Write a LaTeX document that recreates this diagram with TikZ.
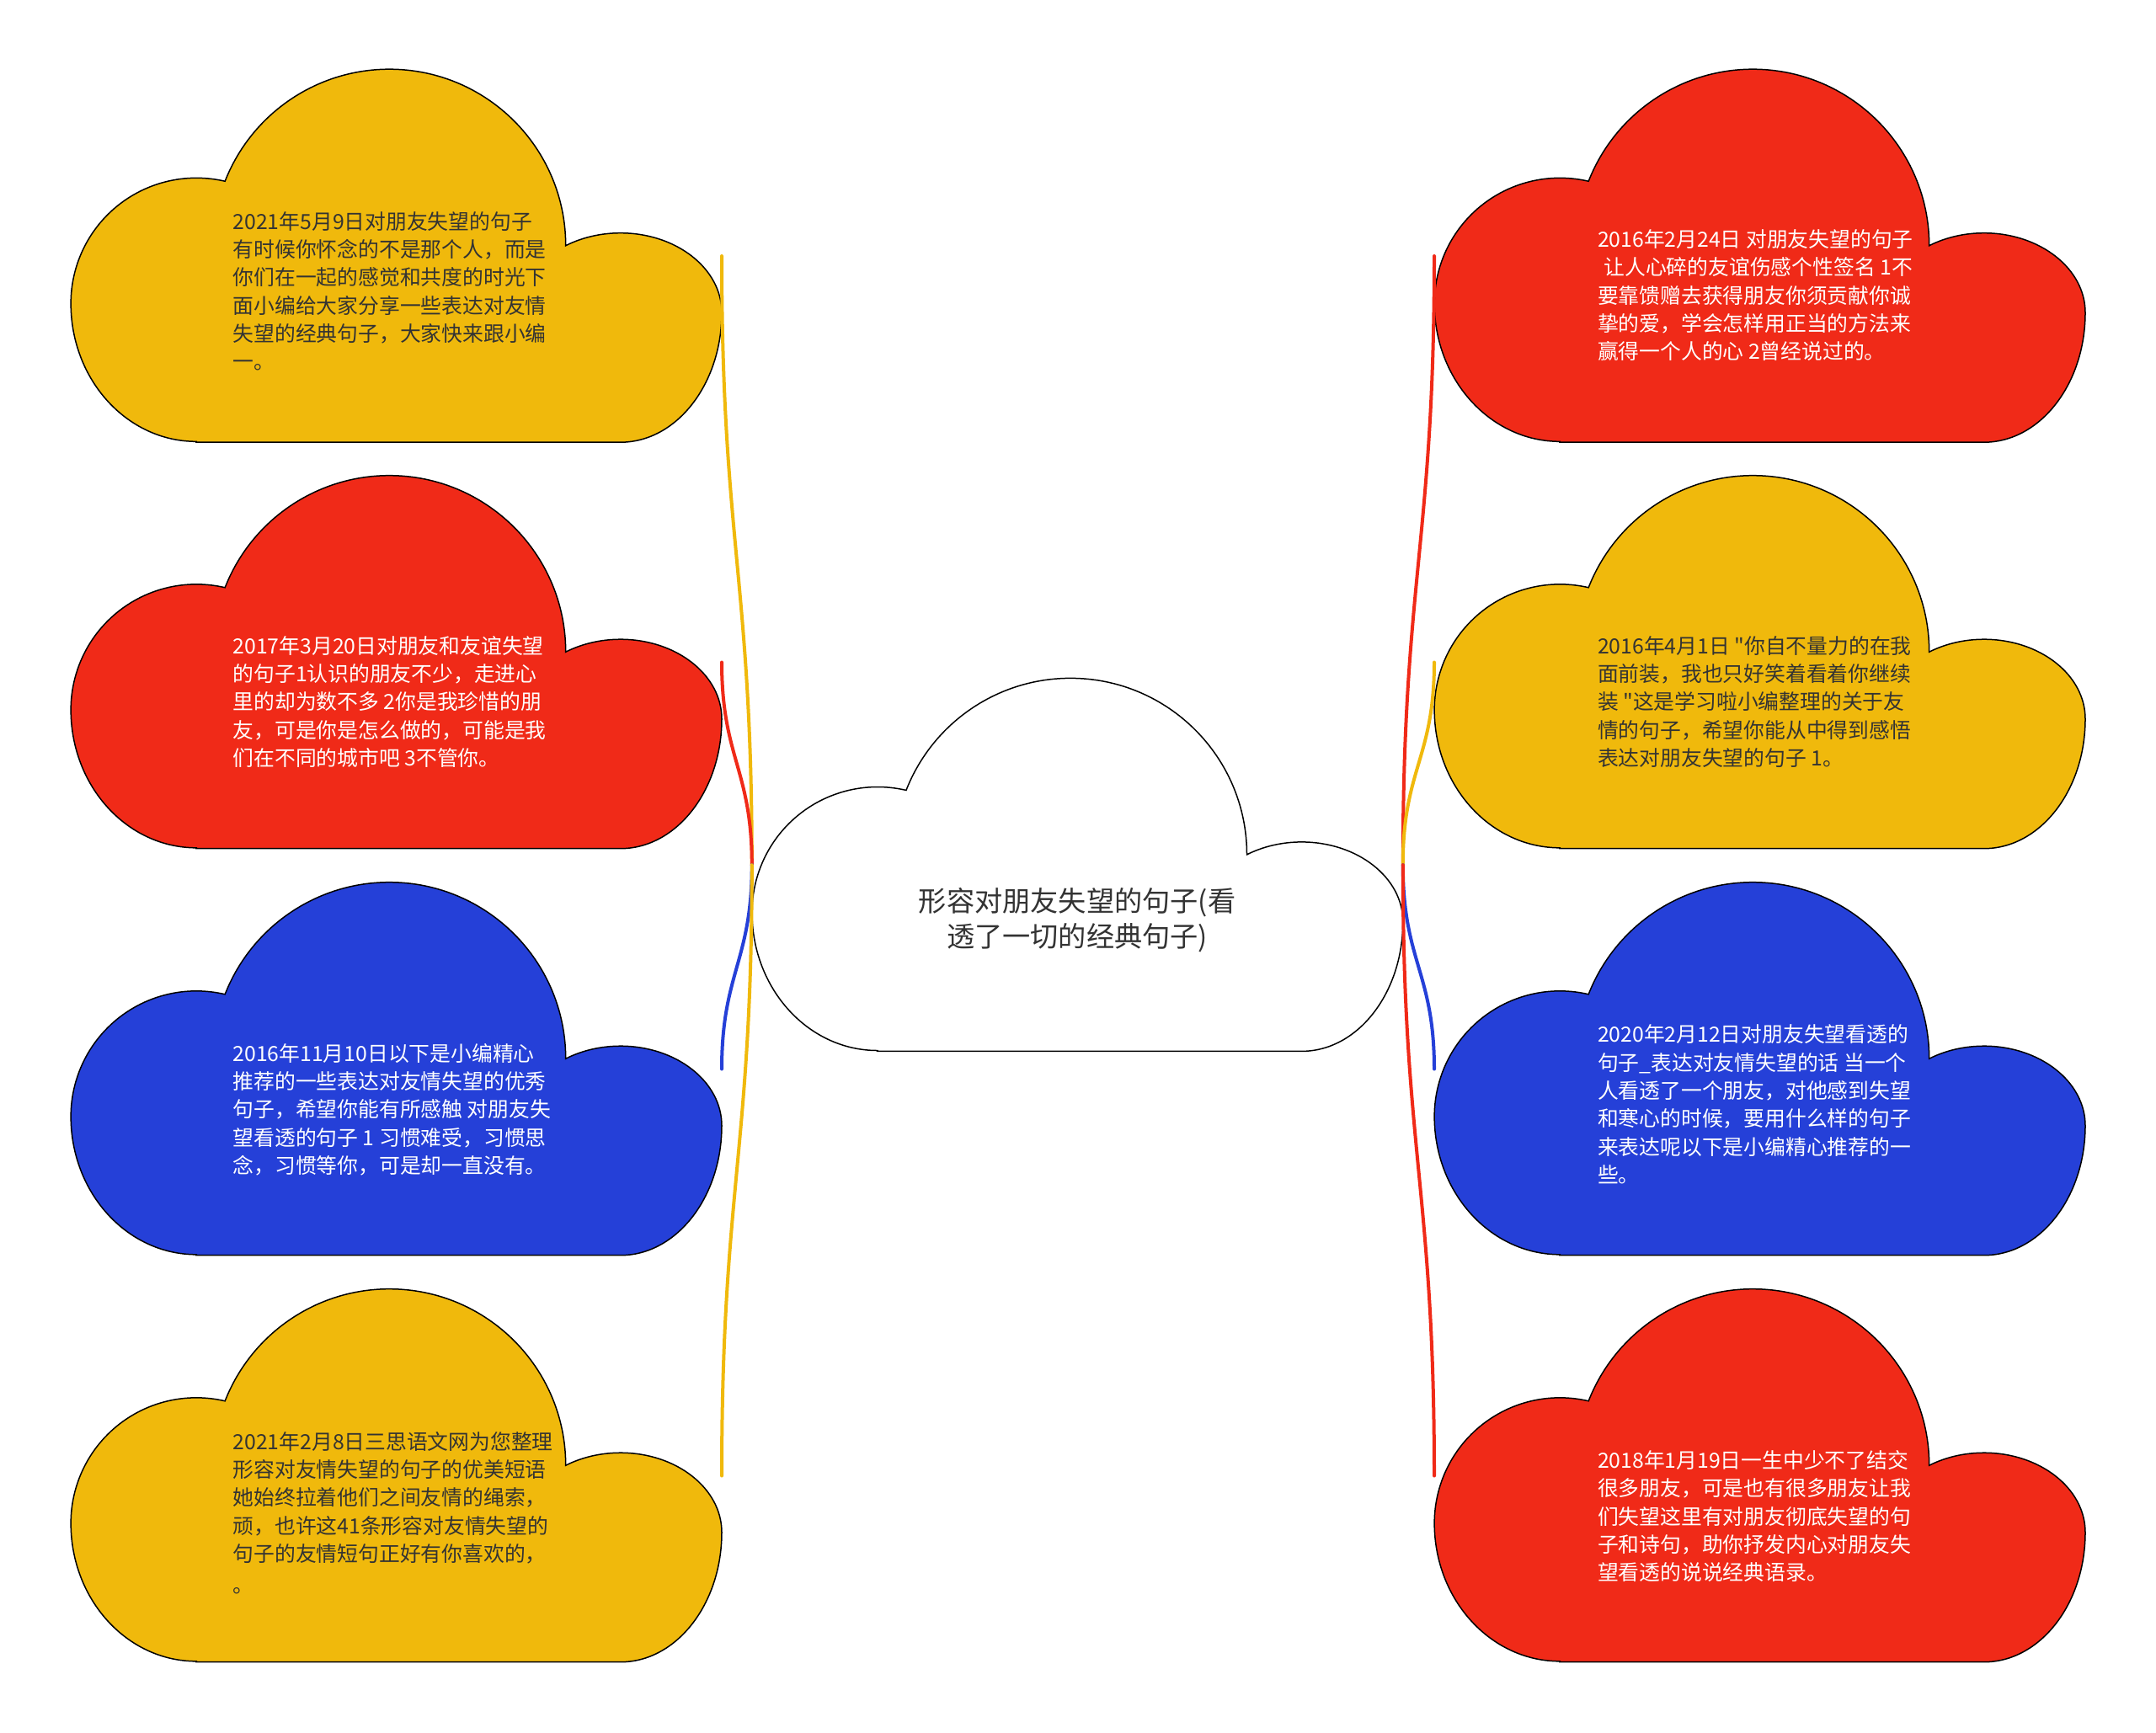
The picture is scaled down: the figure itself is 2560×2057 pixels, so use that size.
\documentclass[tikz,border=0pt]{standalone}
\usepackage{fontspec}
\newfontfamily\cjk{Noto Sans CJK SC}
\definecolor{cyel}{HTML}{F0B90C}
\definecolor{cred}{HTML}{F02A18}
\definecolor{cblu}{HTML}{2540D8}
\definecolor{cdark}{HTML}{333333}
\newcommand\mystrut{\rule{0pt}{1em}}
\newcommand\cloudat[4]{%
  \draw[cloudline, fill=#3, shift={(#1,-#2)}] (149,-441.7) -- (652.7,-441.7)
    arc[start angle=-90, end angle=0, x radius=120.3pt, y radius=154pt]
    arc[start angle=0, end angle=122.7, x radius=120.3pt, y radius=94.5pt]
    arc[start angle=0, end angle=158.6, radius=209.5pt]
    arc[start angle=76.8, end angle=180, radius=149pt]
    arc[start angle=180, end angle=270, x radius=149pt, y radius=164pt]
    -- cycle;
  \coordinate (#4w) at (#1,-#2-220.5);
  \coordinate (#4e) at (#1+773,-#2-220.5);
}
\tikzset{
  cloudline/.style={draw=black, line width=1.5pt},
  conn/.style={line width=4pt, line cap=round},
  bodytext/.style={anchor=north west, inner sep=0pt, align=left,
    font=\cjk\fontsize{24.8pt}{33.3pt}\selectfont},
  darktext/.style={bodytext, text=cdark},
  lighttext/.style={bodytext, text=white},
  titletext/.style={anchor=north, inner sep=0pt, align=center,
    font=\cjk\fontsize{33.2pt}{42pt}\selectfont, text=cdark},
}
\begin{document}
\begin{tikzpicture}[x=1pt,y=1pt]
\useasboundingbox (0,0) rectangle (2560,-2057);
\fill[white] (0,0) rectangle (2560,-2057);

% clouds
\cloudat{84}{83.5}{cyel}{L1}
\cloudat{84}{566}{cred}{L2}
\cloudat{84}{1049}{cblu}{L3}
\cloudat{84}{1532}{cyel}{L4}
\cloudat{1703}{83.5}{cred}{R1}
\cloudat{1703}{566}{cyel}{R2}
\cloudat{1703}{1049}{cblu}{R3}
\cloudat{1703}{1532}{cred}{R4}
\cloudat{892.8}{806.7}{white}{C}

% connectors
\draw[conn, draw=cyel] (Cw) to[out=90, in=-90, looseness=1.2] (L1e);
\draw[conn, draw=cred] (Cw) to[out=90, in=-90, looseness=1.2] (L2e);
\draw[conn, draw=cblu] (Cw) to[out=-90, in=90, looseness=1.2] (L3e);
\draw[conn, draw=cyel] (Cw) to[out=-90, in=90, looseness=1.2] (L4e);
\draw[conn, draw=cred] (Ce) to[out=90, in=-90, looseness=1.2] (R1w);
\draw[conn, draw=cyel] (Ce) to[out=90, in=-90, looseness=1.2] (R2w);
\draw[conn, draw=cblu] (Ce) to[out=-90, in=90, looseness=1.2] (R3w);
\draw[conn, draw=cred] (Ce) to[out=-90, in=90, looseness=1.2] (R4w);

% texts
\node[titletext] (title) at (1279,-1049.4) {\mystrut 形容对朋友失望的句子(看\\透了一切的经典句子)};

\node[darktext] (t1) at (276.4,-247.3) {\mystrut 2021年5月9日对朋友失望的句子\\有时候你怀念的不是那个人，而是\\你们在一起的感觉和共度的时光下\\面小编给大家分享一些表达对友情\\失望的经典句子，大家快来跟小编\\一。};

\node[lighttext] (t2) at (276.4,-751.3) {\mystrut 2017年3月20日对朋友和友谊失望\\的句子1认识的朋友不少，走进心\\里的却为数不多 2你是我珍惜的朋\\友，可是你是怎么做的，可能是我\\们在不同的城市吧 3不管你。};

\node[lighttext] (t3) at (276.4,-1235.3) {\mystrut 2016年11月10日以下是小编精心\\推荐的一些表达对友情失望的优秀\\句子，希望你能有所感触 对朋友失\\望看透的句子 1 习惯难受，习惯思\\念，习惯等你，可是却一直没有。};

\node[darktext] (t4) at (276.4,-1696.3) {\mystrut 2021年2月8日三思语文网为您整理\\形容对友情失望的句子的优美短语\\她始终拉着他们之间友情的绳索，\\顽，也许这41条形容对友情失望的\\句子的友情短句正好有你喜欢的，\\[4pt]。};

\node[lighttext] (t5) at (1896.8,-268.6) {\mystrut 2016年2月24日 对朋友失望的句子\\\hspace*{0.3em}让人心碎的友谊伤感个性签名 1不\\要靠馈赠去获得朋友你须贡献你诚\\挚的爱，学会怎样用正当的方法来\\赢得一个人的心 2曾经说过的。};

\node[darktext] (t6) at (1896.8,-751.3) {\mystrut 2016年4月1日 "你自不量力的在我\\面前装，我也只好笑着看着你继续\\装 "这是学习啦小编整理的关于友\\情的句子，希望你能从中得到感悟\\表达对朋友失望的句子 1。};

\node[lighttext] (t7) at (1896.8,-1212.9) {\mystrut 2020年2月12日对朋友失望看透的\\句子\_表达对友情失望的话 当一个\\人看透了一个朋友，对他感到失望\\和寒心的时候，要用什么样的句子\\来表达呢以下是小编精心推荐的一\\些。};

\node[lighttext] (t8) at (1896.8,-1718.6) {\mystrut 2018年1月19日一生中少不了结交\\很多朋友，可是也有很多朋友让我\\们失望这里有对朋友彻底失望的句\\子和诗句，助你抒发内心对朋友失\\望看透的说说经典语录。};
\end{tikzpicture}
\end{document}
